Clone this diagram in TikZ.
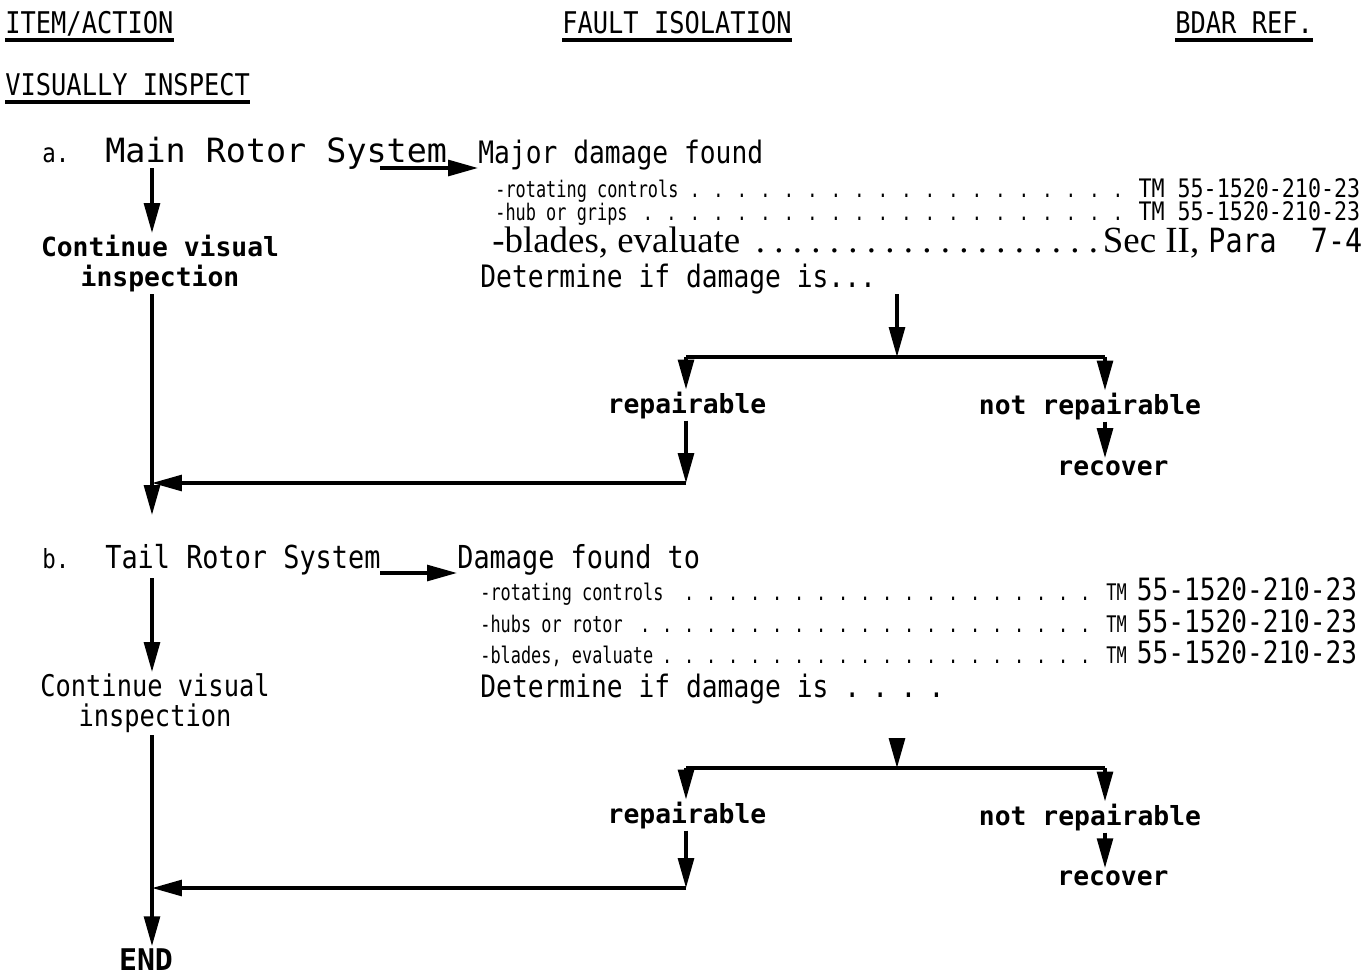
\documentclass[tikz,border=0pt]{standalone}
\usepackage{fontspec}
\setmainfont{Liberation Serif}
\newfontfamily\monofont{DejaVu Sans Mono}
\newfontfamily\lightfont[FakeStretch=0.85]{DejaVu Sans Mono}
\newfontfamily\tinyfont[FakeStretch=0.74]{DejaVu Sans Mono}
\usetikzlibrary{arrows.meta,positioning,calc}

\newcommand{\leadA}{\leaders\hbox to 0.47cm{\hss.\hss}\hfill}
\newcommand{\leadB}{\leaders\hbox to 0.44cm{\hss.\hss}\hfill}
\newcommand{\leadS}{\leaders\hbox to 0.37cm{\hss.\hss}\hfill}

\begin{document}
\begin{tikzpicture}[
    x=0.02cm, y=-0.02cm,
    txt/.style={anchor=base west, inner sep=0pt, font=\lightfont\fontsize{17}{20}\selectfont},
    bold/.style={inner sep=1pt, align=center, font=\monofont\bfseries\fontsize{15}{17}\selectfont},
    plain/.style={inner sep=1pt, align=center, font=\lightfont\fontsize{17}{17}\selectfont},
    row/.style={anchor=base west, inner sep=0pt},
    arr/.style={-{Triangle[length=17pt,width=9pt]}, line width=1.9pt},
    wire/.style={line width=1.9pt},
    ul/.style={line width=1.9pt}
]
\useasboundingbox (0,0) rectangle (1365,978);

% Headings
\node[txt] (hItem) at (5,33) {ITEM/ACTION};
\node[txt] (hFault) at (562,33) {FAULT ISOLATION};
\node[txt] (hBdar) at (1175,33) {BDAR REF.};
\node[txt] (hVis) at (5,95) {VISUALLY INSPECT};
\foreach \h in {hItem,hFault,hBdar,hVis}
  \draw[ul] ([shift={(0,7)}]\h.base west) -- ([shift={(0,7)}]\h.base east);

% a. Main rotor
\node[txt, font=\lightfont\fontsize{15}{17}\selectfont] (labA) at (42,162) {a.};
\node[row, font=\monofont\fontsize{19}{22}\selectfont] (mainA) at (105,162) {Main Rotor System};
\node[txt, font=\lightfont\fontsize{17.6}{20}\selectfont] (majA) at (478,163) {Major damage found};
\node[row] (rowA1) at (495,197) {\hbox to 17.3cm{\tinyfont\fontsize{13}{15}\selectfont -rotating controls\leadA{}\lightfont\fontsize{14.5}{16}\selectfont TM 55-1520-210-23}};
\node[row] (rowA2) at (495,220) {\hbox to 17.3cm{\tinyfont\fontsize{13}{15}\selectfont -hub or grips\leadA{}\lightfont\fontsize{14.5}{16}\selectfont TM 55-1520-210-23}};
\node[row] (rowA3) at (492,252) {\hbox to 17.4cm{\fontsize{21}{24}\selectfont -blades, evaluate\leadS{}Sec II,\ \lightfont\fontsize{19}{22}\selectfont Para\ \ 7-4}};
\node[txt, font=\lightfont\fontsize{17.6}{20}\selectfont] (detA) at (480,287) {Determine if damage is...};
\node[bold, anchor=north] (contA) at (160,233) {Continue visual\\inspection};
\node[bold, anchor=base] (repA) at (687,413) {repairable};
\node[bold, anchor=base] (notA) at (1090,414) {not repairable};
\node[bold, anchor=base] (recA) at (1113,475) {recover};

\coordinate (spA) at (152,168);
\coordinate (arA) at (380,168);
\coordinate (stopA) at (152,515);
\coordinate (brA) at (897,357);
\coordinate (lA) at (686,357);
\coordinate (rA) at (1105,357);
\coordinate (retA) at (686,483);

\draw[arr] (arA) -- (arA -| majA.west);
\draw[arr] (spA) -- (spA |- contA.north);
\draw[arr] (spA |- contA.south) -- (stopA);
\draw[arr] (detA.south -| brA) -- (brA);
\draw[wire] (lA) -- (rA);
\draw[arr] (lA) -- (lA |- repA.north);
\draw[arr] (rA) -- (rA |- notA.north);
\draw[arr] (rA |- notA.south) -- (rA |- recA.north);
\draw[arr] (retA |- repA.south) -- (retA);
\draw[arr] (retA) -- (retA -| spA);

% b. Tail rotor
\node[txt, font=\lightfont\fontsize{15}{17}\selectfont] (labB) at (42,568) {b.};
\node[txt, font=\lightfont\fontsize{18}{20}\selectfont] (tailB) at (105,568) {Tail Rotor System};
\node[txt, font=\lightfont\fontsize{18}{20}\selectfont] (dmgB) at (457,568) {Damage found to};
\node[row] (rowB1) at (480,600) {\hbox to 17.54cm{\tinyfont\fontsize{13}{15}\selectfont -rotating controls\leadB{}TM\ \lightfont\fontsize{17.5}{20}\selectfont 55-1520-210-23}};
\node[row] (rowB2) at (480,632) {\hbox to 17.54cm{\tinyfont\fontsize{13}{15}\selectfont -hubs or rotor\leadB{}TM\ \lightfont\fontsize{17.5}{20}\selectfont 55-1520-210-23}};
\node[row] (rowB3) at (480,663) {\hbox to 17.54cm{\tinyfont\fontsize{13}{15}\selectfont -blades, evaluate\leadB{}TM\ \lightfont\fontsize{17.5}{20}\selectfont 55-1520-210-23}};
\node[txt, font=\lightfont\fontsize{17.6}{20}\selectfont] (detB) at (480,697) {Determine if damage is\ .\kern-2pt\ .\kern-2pt\ .\kern-2pt\ .};
\node[plain, anchor=north] (contB) at (155,672) {Continue visual\\inspection};
\node[bold, anchor=base] (repB) at (687,823) {repairable};
\node[bold, anchor=base] (notB) at (1090,825) {not repairable};
\node[bold, anchor=base] (recB) at (1113,885) {recover};
\node[bold, anchor=base, font=\monofont\bfseries\fontsize{17}{19}\selectfont] (endN) at (146,970) {END};

\coordinate (spB) at (152,578);
\coordinate (arB) at (380,573);
\coordinate (brB) at (897,768);
\coordinate (lB) at (686,768);
\coordinate (rB) at (1105,768);
\coordinate (retB) at (686,888);

\draw[arr] (arB) -- (arB -| dmgB.west);
\draw[arr] (spB) -- (spB |- contB.north);
\draw[arr] (spB |- contB.south) -- (spB |- endN.north);
\draw[arr] (detB.south -| brB) ++(0,50) -- (brB);
\draw[wire] (lB) -- (rB);
\draw[arr] (lB) -- (lB |- repB.north);
\draw[arr] (rB) -- (rB |- notB.north);
\draw[arr] (rB |- notB.south) -- (rB |- recB.north);
\draw[arr] (retB |- repB.south) -- (retB);
\draw[arr] (retB) -- (retB -| spB);

\end{tikzpicture}
\end{document}
